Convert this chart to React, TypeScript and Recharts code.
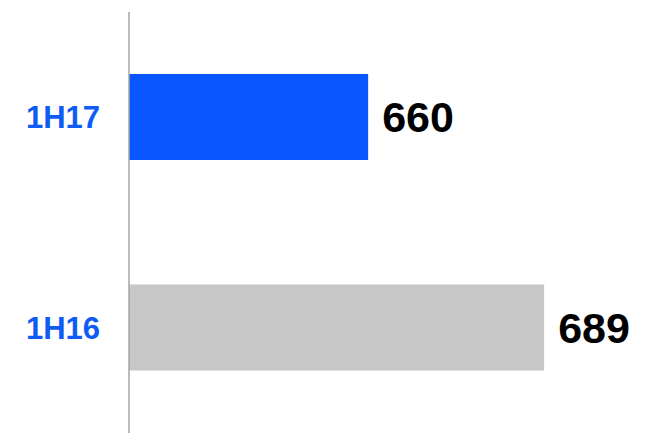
import { BarChart, Bar, XAxis, YAxis, LabelList, Cell } from "recharts";

const periods = ["1H17", "1H16"];
const values = [660, 689];
const barColors = ["#0756FF", "#C7C7C7"];

const data = periods.map((period, i) => ({ period, value: values[i] }));

const font = "'Liberation Sans', Arial, sans-serif";

export default function App() {
  return (
    <div style={{ position: "absolute", left: 0, top: 0, background: "#fff" }}>
      <BarChart
        width={652}
        height={433}
        data={data}
        layout="vertical"
        margin={{ top: 12, right: 15, bottom: 0, left: 0 }}
        barCategoryGap={0}
      >
        <XAxis type="number" hide domain={[620.6, 704.3]} />
        <YAxis
          type="category"
          dataKey="period"
          width={129}
          tickLine={false}
          tickMargin={23}
          axisLine={{ stroke: "#A6A6A6", strokeWidth: 1.5 }}
          tick={{ fill: "#0F5CF5", fontSize: 31, fontWeight: 700, fontFamily: font }}
        />
        <Bar dataKey="value" barSize={86} isAnimationActive={false}>
          {data.map((d, i) => (
            <Cell key={d.period} fill={barColors[i]} />
          ))}
          <LabelList
            dataKey="value"
            position="right"
            offset={14}
            style={{ fill: "#000", fontSize: 43, fontWeight: 700, fontFamily: font }}
          />
        </Bar>
      </BarChart>
    </div>
  );
}
